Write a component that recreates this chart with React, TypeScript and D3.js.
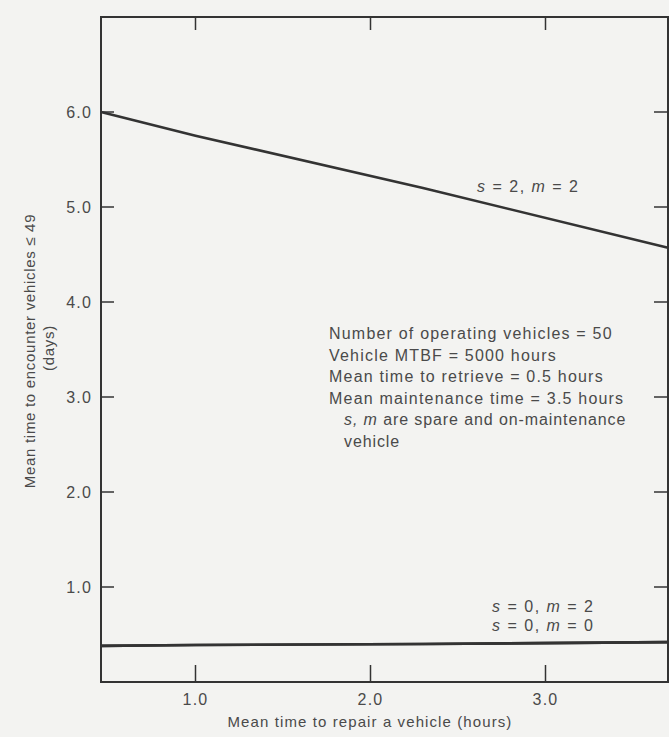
import React, { useRef, useEffect } from "react";
import * as d3 from "d3";

const width = 669;
const height = 737;
const margin = { top: 17, right: 1, bottom: 55, left: 101 };

// repair time (hours) vs mean time to encounter vehicles <= 49 (days)
const repairHours = [0.46, 1.0, 2.3, 3.7];
const s2m2 = [6.0, 5.75, 5.2, 4.57];
const s0m2 = [0.38, 0.39, 0.4, 0.42];
const s0m0 = [0.38, 0.39, 0.4, 0.42];

const xTicks = [1.0, 2.0, 3.0];
const yTicks = [1.0, 2.0, 3.0, 4.0, 5.0, 6.0];

const notes = [
  "Number of operating vehicles = 50",
  "Vehicle MTBF = 5000 hours",
  "Mean time to retrieve = 0.5 hours",
  "Mean maintenance time = 3.5 hours",
];

const ink = "#333";
const textInk = "#4a4a4a";
const font = "'Liberation Sans', Arial, sans-serif";

const App = () => {
  const ref = useRef(null);

  useEffect(() => {
    const svg = d3.select(ref.current);
    svg.selectAll("*").remove();

    const x = d3
      .scaleLinear()
      .domain([0.46, 3.7])
      .range([margin.left, width - margin.right]);
    const y = d3
      .scaleLinear()
      .domain([0, 7])
      .range([height - margin.bottom, margin.top]);

    svg
      .append("rect")
      .attr("width", width)
      .attr("height", height)
      .attr("fill", "#f3f3f1");

    // frame
    svg
      .append("rect")
      .attr("x", x(0.46))
      .attr("y", y(7))
      .attr("width", x(3.7) - x(0.46))
      .attr("height", y(0) - y(7))
      .attr("fill", "none")
      .attr("stroke", ink)
      .attr("stroke-width", 2);

    // ticks, all pointing inward
    const g = svg.append("g").attr("stroke", ink).attr("stroke-width", 1.5);
    xTicks.forEach((t) => {
      g.append("line")
        .attr("x1", x(t)).attr("x2", x(t))
        .attr("y1", y(0)).attr("y2", y(0) - 17);
      g.append("line")
        .attr("x1", x(t)).attr("x2", x(t))
        .attr("y1", y(7)).attr("y2", y(7) + 13);
    });
    yTicks.forEach((t) => {
      g.append("line")
        .attr("x1", x(0.46)).attr("x2", x(0.46) + 13)
        .attr("y1", y(t)).attr("y2", y(t));
      g.append("line")
        .attr("x1", x(3.7)).attr("x2", x(3.7) - 14)
        .attr("y1", y(t)).attr("y2", y(t));
    });

    const labels = svg
      .append("g")
      .style("font-family", font)
      .attr("fill", textInk);

    labels
      .selectAll(".yl")
      .data(yTicks)
      .join("text")
      .attr("x", x(0.46) - 9)
      .attr("y", (d) => y(d) + 6)
      .attr("text-anchor", "end")
      .style("font-size", "16px")
      .style("letter-spacing", "1.2px")
      .text((d) => d.toFixed(1));

    labels
      .selectAll(".xl")
      .data(xTicks)
      .join("text")
      .attr("x", (d) => x(d))
      .attr("y", y(0) + 23)
      .attr("text-anchor", "middle")
      .style("font-size", "16px")
      .style("letter-spacing", "1.2px")
      .text((d) => d.toFixed(1));

    labels
      .append("text")
      .attr("x", 370)
      .attr("y", 727)
      .attr("text-anchor", "middle")
      .style("font-size", "15px")
      .style("letter-spacing", "1.1px")
      .text("Mean time to repair a vehicle (hours)");

    labels
      .append("text")
      .attr("transform", "translate(35,351) rotate(-90)")
      .attr("text-anchor", "middle")
      .style("font-size", "15px")
      .style("letter-spacing", "0.7px")
      .text("Mean time to encounter vehicles \u2264 49");
    labels
      .append("text")
      .attr("transform", "translate(54,348) rotate(-90)")
      .attr("text-anchor", "middle")
      .style("font-size", "15px")
      .style("letter-spacing", "0.7px")
      .text("(days)");

    // data lines
    const line = d3
      .line()
      .x((d) => x(d[0]))
      .y((d) => y(d[1]));
    [s2m2, s0m2, s0m0].forEach((vals) => {
      svg
        .append("path")
        .attr("d", line(repairHours.map((h, i) => [h, vals[i]])))
        .attr("fill", "none")
        .attr("stroke", ink)
        .attr("stroke-width", 2.6);
    });

    const curveLabel = (px, py, s, m) => {
      const t = labels
        .append("text")
        .attr("x", px)
        .attr("y", py)
        .style("font-size", "16px")
        .style("letter-spacing", "1.5px");
      t.append("tspan").style("font-style", "italic").text("s");
      t.append("tspan").text(` = ${s}, `);
      t.append("tspan").style("font-style", "italic").text("m");
      t.append("tspan").text(` = ${m}`);
    };
    curveLabel(477, 192, 2, 2);
    curveLabel(492, 612, 0, 2);
    curveLabel(492, 631, 0, 0);

    // notes
    notes.forEach((n, i) => {
      labels
        .append("text")
        .attr("x", 329)
        .attr("y", 339 + i * 21.6)
        .style("font-size", "16px")
        .style("letter-spacing", "1.2px")
        .text(n);
    });
    const last = labels
      .append("text")
      .attr("x", 344)
      .attr("y", 425)
      .style("font-size", "16px")
      .style("letter-spacing", "0.9px");
    last.append("tspan").style("font-style", "italic").text("s, m");
    last.append("tspan").text(" are spare and on-maintenance");
    labels
      .append("text")
      .attr("x", 344)
      .attr("y", 447)
      .style("font-size", "16px")
      .style("letter-spacing", "0.9px")
      .text("vehicle");
  }, []);

  return (
    <svg
      ref={ref}
      width={width}
      height={height}
      style={{ position: "absolute", left: 0, top: 0 }}
    />
  );
};

export default App;
